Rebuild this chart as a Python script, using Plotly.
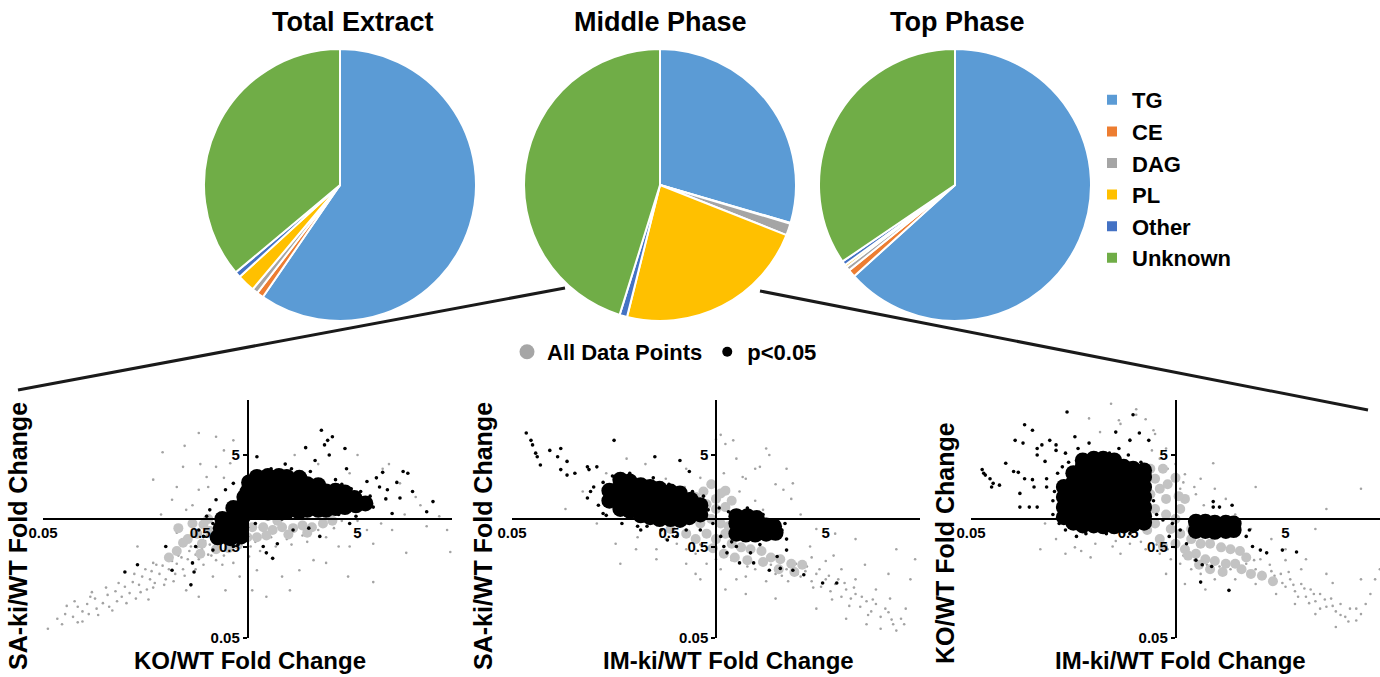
import plotly.graph_objects as go

# ---------------- pie data (percent of lipid signal) ----------------
lipid_classes = ["TG", "CE", "DAG", "PL", "Other", "Unknown"]
lipid_colors = ["#5B9BD5", "#ED7D31", "#A5A5A5", "#FFC000", "#4472C4", "#70AD47"]
total_extract = [59.6, 0.8, 0.7, 2.1, 0.7, 36.1]
middle_phase = [29.5, 0.1, 1.4, 22.9, 0.9, 45.2]
top_phase = [63.3, 0.9, 0.5, 0.3, 0.5, 34.5]
pie_titles = ["Total Extract", "Middle Phase", "Top Phase"]

# ---------------- scatter data: (log10 x fold change, log10 y fold change) ----------------
# Panel 1: KO/WT (x) vs SA-ki/WT (y)
p1_all_dense = [(-0.35,-0.05),(-0.32,-0.16),(-0.29,-0.27),(-0.38,-0.22),(-0.25,0.00),(-0.24,-0.13),
    (-0.19,-0.24),(-0.13,-0.22),(-0.06,-0.17),(0.00,-0.20),(0.03,-0.09),(0.10,-0.09),(0.16,-0.12),
    (0.22,-0.09),(0.29,-0.10),(0.35,-0.07),(0.41,-0.09),(0.48,-0.05),(-0.45,-0.35),(-0.41,-0.26),
    (-0.06,-0.28),(0.06,-0.20),(0.54,-0.02),(-0.50,-0.42),(-0.30,-0.38),(-0.20,-0.33),(0.12,-0.18),
    (0.26,-0.17),(-0.44,-0.10),(-0.28,-0.06),(0.19,-0.02),(0.38,-0.15),(-0.12,-0.32)]
p1_all = [(-1.21,-1.09),(-1.16,-1.04),(-1.11,-1.07),(-1.08,-0.96),(-1.05,-1.01),(-1.02,-0.93),
    (-1.01,-1.04),(-0.97,-0.87),(-0.96,-0.98),(-0.92,-0.92),(-0.89,-0.83),(-0.88,-0.96),(-0.84,-0.79),
    (-0.83,-0.90),(-0.80,-0.85),(-0.78,-0.74),(-0.75,-0.81),(-0.73,-0.69),(-0.71,-0.87),(-0.69,-0.72),
    (-0.67,-0.63),(-0.64,-0.77),(-0.62,-0.66),(-0.61,-0.57),(-0.59,-0.70),(-0.56,-0.60),(-0.54,-0.51),
    (-0.52,-0.66),(-0.50,-0.55),(-0.48,-0.46),(-0.46,-0.60),(-0.45,-0.49),(-0.42,-0.42),(-0.41,-0.55),
    (-0.38,-0.44),(-0.37,-0.35),(-0.35,-0.49),(-0.33,-0.39),(-0.32,-0.31),(-0.31,-0.44),(-0.29,-0.33),
    (-0.27,-0.24),(-0.25,-0.39),(-0.24,-0.28),(-1.27,-1.20),(-1.18,-1.15),(-1.08,-1.13),
    (-0.54,0.73),(-0.31,0.94),(-0.20,0.90),(-0.41,0.57),(-0.26,0.46),(-0.09,0.86),(-0.60,0.43),
    (-0.31,0.32),(-0.48,0.21),(-0.39,0.10),(-0.20,0.57),(-0.11,0.61),(-0.05,0.24),
    (0.65,0.50),(0.86,0.55),(0.97,0.39),(1.07,0.24),(1.22,0.03),(1.27,-0.12),(1.29,-0.36),
    (1.01,-0.37),(0.80,-0.27),(0.65,-0.30),(0.50,-0.48),(0.80,-0.69),(0.64,-0.63),(0.33,-0.56),
    (0.27,-0.78),(0.42,-0.45),(0.22,-0.63),(0.12,-0.85),(0.03,-0.78),(1.14,-0.08),(0.92,-0.12),
    (0.76,-0.12),(-0.09,-0.48),(-0.05,-0.63),(-0.14,-0.78),(-0.22,-0.63),(0.01,-0.41),(0.06,-0.56),
    (-0.31,-0.85),(-0.39,-0.78),(0.05,-0.25),(0.15,-0.20),(0.25,-0.22),(0.35,-0.18),(0.45,-0.12),
    (0.55,-0.10),(0.60,-0.02),(0.70,-0.02),(-0.15,-0.40),(-0.20,-0.45),(0.10,-0.10),(-0.45,-0.15),
    (-0.50,-0.40),(-0.60,-0.48),(-0.55,0.05),(-0.70,-0.30),(-0.35,0.15),(-0.30,0.60),(0.45,0.60),
    (0.30,0.70),(-1.10,-0.90),(-1.00,-0.85),(-0.95,-1.05),(-0.90,-0.75),(-0.86,-1.00),(-0.82,-0.70),
    (-0.77,-0.92),(-0.72,-0.60),(-0.68,-0.80),(-0.65,-0.55),(-0.60,-0.75),(-0.58,-0.50),(-0.53,-0.72),
    (-0.50,-0.45),(-0.47,-0.68),(-0.44,-0.40),(-0.40,-0.62),(-0.36,-0.30),(-0.33,-0.55),(-0.30,-0.25),
    (-0.28,-0.50),(-0.26,-0.18),(-0.23,-0.40),(-0.18,-0.30),(-0.16,-0.50),(-0.12,-0.35),(-1.15,-0.95),
    (-1.05,-1.12),(-0.99,-0.80),(-0.63,-0.88),(0.02,-0.30),(0.08,-0.35),(0.18,-0.30),(0.28,-0.28),
    (0.38,-0.25),(0.50,-0.20),(0.58,-0.30),(0.70,-0.20),(0.85,-0.05),(1.00,0.05),(1.10,0.15),
    (0.90,0.60),(0.70,0.70),(-0.15,0.75),(-0.40,0.80),(-0.45,0.35),(-0.25,0.35),(-0.15,0.45)]
p1_sig_dense = [(-0.19,-0.20),(-0.17,-0.10),(-0.16,0.00),(-0.11,-0.21),(-0.10,-0.11),(-0.10,0.01),
    (-0.09,0.12),(-0.04,-0.19),(-0.04,-0.09),(-0.03,0.02),(-0.04,0.13),(-0.02,0.24),
    (0.00,0.08),(0.01,0.18),(0.00,0.30),(0.01,0.40),(0.06,0.08),(0.07,0.18),(0.06,0.29),(0.07,0.39),
    (0.06,0.46),(0.13,0.07),(0.12,0.18),(0.13,0.28),(0.14,0.38),(0.13,0.47),(0.19,0.08),(0.20,0.17),
    (0.19,0.28),(0.19,0.39),(0.20,0.47),(0.25,0.08),(0.26,0.18),(0.25,0.29),(0.26,0.38),(0.25,0.46),
    (0.32,0.09),(0.31,0.18),(0.32,0.28),(0.32,0.38),(0.33,0.45),(0.38,0.10),(0.39,0.19),(0.38,0.29),
    (0.38,0.38),(0.45,0.10),(0.44,0.20),(0.45,0.30),(0.45,0.37),(0.50,0.10),(0.51,0.20),(0.50,0.30),
    (0.56,0.12),(0.57,0.22),(0.56,0.31),(0.62,0.13),(0.63,0.22),(0.62,0.29),(0.69,0.15),(0.68,0.23),
    (0.75,0.17)]
p1_sig = [(0.47,0.97),(0.54,0.90),(0.51,0.86),(0.49,0.81),(0.37,0.78),(0.62,0.77),(0.52,0.70),
    (0.06,0.68),(0.43,0.64),(0.24,0.60),(0.99,0.52),(1.02,0.50),(0.86,0.51),(0.76,0.41),(0.84,0.35),
    (0.89,0.32),(0.97,0.23),(1.18,0.19),(1.14,0.08),(0.92,0.06),(0.80,0.13),(0.03,0.50),(-0.09,0.39),
    (-0.14,0.32),(-0.20,0.21),(-0.26,0.03),(-0.31,-0.12),(-0.33,-0.30),(-0.35,-0.48),(-0.34,-0.58),
    (-0.36,-0.72),(-0.48,-0.56),(-0.52,-0.30),(-0.70,-0.50),(-0.78,-0.58),(-0.22,-0.34),(-0.09,-0.30),
    (0.10,-0.30),(0.12,-0.37),(0.16,-0.43),(0.19,-0.27),(0.29,-0.12),(0.39,-0.10),(0.46,-0.19),
    (0.65,-0.05),(0.69,0.03),(0.73,0.21),(0.67,0.24),(0.56,0.43),(0.33,0.46),(-0.20,-0.08),
    (-0.28,-0.19),(0.60,0.38),(0.66,0.33),(0.72,0.30),(0.78,0.25),(0.70,0.10),(0.58,0.05),(0.40,0.52),
    (0.28,0.55),(0.15,0.55),(0.35,0.02),(0.22,0.00),(0.05,-0.05),(-0.06,-0.28),(-0.13,-0.25),
    (-0.22,-0.05),(-0.24,0.10),(0.63,0.55),(0.82,0.45),(0.88,0.22),(0.95,0.40),(1.05,0.30)]

# Panel 2: IM-ki/WT (x) vs SA-ki/WT (y)
p2_all_dense = [(-0.25,0.27),(-0.19,0.22),(-0.13,0.24),(-0.06,0.16),(0.00,0.11),(0.00,0.22),
    (0.06,0.13),(-0.03,0.00),(0.03,-0.05),(-0.10,-0.05),(-0.06,-0.16),(0.00,-0.22),(0.06,-0.16),
    (0.10,-0.27),(-0.13,-0.22),(-0.19,-0.16),(-0.29,-0.11),(-0.25,0.05),(0.16,-0.31),(0.22,-0.33),
    (0.29,-0.35),(0.13,0.05),(0.06,0.31),(-0.03,0.38),(0.35,-0.42),(0.41,-0.44),(0.48,-0.49),
    (-0.20,0.05),(-0.15,0.10),(-0.08,0.30),(0.03,0.28),(0.10,0.20),(0.08,-0.08),(-0.02,-0.32),
    (0.05,-0.38),(0.12,-0.42),(0.20,-0.45),(0.30,-0.47),(0.40,-0.55),(0.50,-0.58),(0.55,-0.50)]
p2_all = [(0.45,-0.55),(0.51,-0.49),(0.54,-0.63),(0.57,-0.57),(0.61,-0.68),(0.64,-0.60),(0.67,-0.74),
    (0.70,-0.66),(0.73,-0.79),(0.76,-0.71),(0.80,-0.85),(0.83,-0.77),(0.86,-0.87),(0.89,-0.82),
    (0.92,-0.96),(0.96,-0.90),(0.99,-1.01),(1.02,-0.93),(1.05,-1.07),(1.08,-0.98),(1.13,-1.15),
    (1.18,-1.09),(1.15,-1.22),(1.05,-1.20),(0.96,-1.15),(1.21,-0.98),(1.11,-0.87),(1.02,-0.77),
    (0.89,-0.66),(0.80,-0.55),(0.70,-0.46),(0.61,-0.42),(0.38,-0.60),(0.32,-0.68),(0.25,-0.55),
    (0.19,-0.63),(0.13,-0.66),(0.06,-0.77),(0.03,-0.55),(0.00,-0.44),(-0.06,-0.49),(-0.13,-0.38),
    (-0.19,-0.33),(-0.25,-0.27),(-0.32,-0.22),(-0.38,-0.33),(-0.10,-0.66),(0.19,-0.82),(0.38,-0.87),
    (0.64,-0.98),(0.83,-1.09),(1.24,-0.66),(1.27,-0.44),(1.15,-0.33),(0.89,-0.22),(0.76,-0.16),
    (0.64,-0.11),(0.54,0.05),(0.48,0.22),(0.38,0.38),(0.25,0.55),(0.13,0.66),(0.06,0.82),(0.00,0.87),
    (-0.06,0.66),(0.19,0.44),(0.32,0.77),(0.45,0.55),(-0.19,0.55),(-0.32,0.44),(-0.45,0.60),
    (-0.57,0.66),(-0.96,0.11),(-0.76,-0.05),(-0.64,-0.27),(-0.51,-0.33),(-0.38,-0.44),(-0.61,-0.49),
    (-0.19,-0.49),(-0.13,-0.60),(0.35,-0.22),(0.29,-0.16),(0.22,-0.11),(0.34,0.70),(0.28,0.57),
    (0.11,0.86),(0.03,0.92),(0.17,0.46),(0.43,0.32),(0.49,0.39),(0.52,-0.60),(0.58,-0.52),
    (0.62,-0.75),(0.66,-0.55),(0.72,-0.62),(0.74,-0.88),(0.78,-0.66),(0.82,-0.70),(0.85,-0.95),
    (0.88,-0.75),(0.93,-0.85),(0.97,-1.05),(1.00,-0.88),(1.10,-1.02),(1.12,-1.10),(1.20,-1.15),
    (0.42,-0.62),(0.46,-0.68),(0.35,-0.50),(0.28,-0.48),(0.20,-0.52),(0.10,-0.45),(0.04,-0.35),
    (-0.04,-0.30),(-0.10,-0.28),(-0.40,0.10),(-0.20,0.35),(-0.10,0.45),(0.05,0.50),(0.15,0.30),
    (0.25,0.20),(0.30,0.10),(-0.50,-0.20),(-0.70,0.50),(-0.85,0.30),(0.60,-0.30),(0.75,-0.40),
    (0.95,-0.50),(1.10,-0.60)]
p2_sig_dense = [(-0.68,0.20),(-0.68,0.31),(-0.61,0.11),(-0.61,0.22),(-0.62,0.33),(-0.61,0.43),
    (-0.55,0.09),(-0.55,0.19),(-0.54,0.30),(-0.55,0.41),(-0.48,0.04),(-0.48,0.15),(-0.49,0.26),
    (-0.48,0.37),(-0.42,0.02),(-0.42,0.13),(-0.41,0.24),(-0.42,0.35),(-0.36,0.00),(-0.36,0.11),
    (-0.35,0.22),(-0.36,0.33),(-0.29,0.00),(-0.29,0.11),(-0.30,0.21),(-0.29,0.30),(-0.23,-0.01),
    (-0.23,0.10),(-0.22,0.19),(-0.23,0.28),(-0.17,0.02),(-0.17,0.13),(-0.16,0.21),(-0.10,0.05),
    (-0.10,0.15),(0.13,-0.16),(0.13,-0.05),(0.13,0.03),(0.19,-0.17),(0.19,-0.06),(0.20,0.03),
    (0.25,-0.17),(0.25,-0.06),(0.26,0.01),(0.32,-0.16),(0.32,-0.07),(0.38,-0.15),(0.37,-0.08)]
p2_sig = [(-1.21,0.94),(-1.18,0.86),(-1.17,0.81),(-1.15,0.72),(-1.14,0.68),(-1.12,0.59),(-1.06,0.75),
    (-0.99,0.77),(-1.01,0.68),(-0.95,0.63),(-0.99,0.54),(-0.95,0.48),(-0.90,0.50),(-0.82,0.57),
    (-0.81,0.54),(-0.76,0.57),(-0.82,0.23),(-0.78,0.35),(-0.72,0.06),(-0.70,0.04),(-0.65,0.86),
    (-0.39,0.68),(-0.23,0.64),(-0.17,0.52),(-0.48,-0.12),(-0.44,-0.08),(-0.31,-0.23),(-0.25,-0.19),
    (-0.19,-0.12),(-0.02,-0.05),(0.05,-0.30),(0.07,-0.37),(0.15,-0.48),(0.24,-0.48),(0.34,-0.56),
    (0.41,-0.54),(0.49,-0.56),(0.56,-0.61),(0.68,-0.70),(0.77,-0.70),(-0.10,-0.12),(0.03,-0.19),
    (0.13,-0.30),(0.22,-0.37),(0.45,-0.34),(0.39,-0.41),(-0.80,0.30),(-0.75,0.15),(-0.72,0.40),
    (-0.66,0.47),(-0.55,0.50),(-0.40,0.45),(-0.30,0.38),(-0.15,0.30),(-0.60,-0.05),(-0.50,-0.08),
    (-0.35,-0.12),(-0.05,0.10),(0.02,0.12),(-0.08,0.25),(0.08,0.08),(0.10,-0.25),(0.30,0.05),
    (0.42,-0.12),(0.44,-0.05),(0.28,-0.28),(0.20,0.12),(0.45,-0.22)]

# Panel 3: IM-ki/WT (x) vs KO/WT (y)
p3_all_dense = [(-0.13,0.44),(-0.10,0.33),(-0.06,0.22),(-0.13,0.11),(-0.06,0.05),(0.00,0.00),
    (0.03,0.11),(-0.03,-0.11),(0.03,-0.16),(0.10,-0.11),(0.10,-0.22),(0.16,-0.27),(0.22,-0.27),
    (0.29,-0.31),(0.35,-0.33),(0.41,-0.35),(-0.13,-0.05),(-0.10,-0.22),(0.00,-0.27),(0.06,-0.33),
    (0.13,-0.38),(0.19,-0.44),(0.25,-0.46),(0.32,-0.49),(0.38,-0.49),(-0.16,0.55),(-0.16,0.27),
    (0.06,0.22),(0.08,-0.40),(0.15,-0.50),(0.22,-0.55),(0.30,-0.58),(0.42,-0.55),(0.48,-0.60),
    (0.55,-0.62),(0.62,-0.68),(-0.05,0.38),(0.00,0.45),(-0.08,0.55),(0.02,0.25),(-0.18,-0.12),
    (-0.08,-0.30),(0.45,-0.42)]
p3_all = [(0.45,-0.49),(0.51,-0.55),(0.54,-0.44),(0.57,-0.63),(0.61,-0.57),(0.64,-0.68),(0.67,-0.60),
    (0.70,-0.74),(0.73,-0.66),(0.76,-0.79),(0.80,-0.71),(0.83,-0.85),(0.86,-0.77),(0.89,-0.90),
    (0.92,-0.82),(0.96,-0.96),(0.99,-0.87),(1.02,-1.01),(1.05,-0.93),(1.08,-1.07),(1.11,-0.98),
    (1.15,-1.11),(1.18,-1.04),(1.21,-0.93),(1.24,-0.82),(1.02,-1.18),(0.89,-1.04),(0.76,-0.93),
    (0.64,-0.82),(0.51,-0.71),(0.38,-0.66),(0.32,-0.60),(0.25,-0.66),(0.16,-0.60),(0.10,-0.55),
    (0.03,-0.49),(-0.03,-0.44),(-0.10,-0.38),(0.19,-0.77),(0.06,-0.71),(-0.06,-0.60),(-0.19,-0.33),
    (-0.29,-0.27),(-0.38,-0.24),(-0.51,-0.27),(-0.64,-0.31),(-0.76,-0.22),(-0.83,-0.05),(-0.86,-0.33),
    (-0.70,-0.38),(-0.54,-0.42),(-0.35,-0.38),(1.27,-0.66),(1.18,-0.66),(0.96,-0.60),(0.83,-0.44),
    (0.70,-0.33),(0.61,-0.22),(0.48,-0.11),(0.38,0.05),(0.32,0.22),(0.25,0.33),(0.16,0.44),
    (0.06,0.49),(0.00,0.60),(-0.06,0.77),(-0.13,0.93),(-0.19,1.09),(-0.25,1.20),(-0.35,1.04),
    (-0.29,0.87),(-0.38,0.66),(-0.10,0.66),(0.03,0.33),(0.13,0.27),(0.29,-0.11),(0.89,-0.11),
    (0.96,0.11),(1.18,0.33),(-0.41,1.26),(-0.25,1.14),(-0.14,0.97),(-0.36,1.08),(0.24,0.61),
    (0.51,0.35),(0.50,-0.45),(0.55,-0.58),(0.60,-0.50),(0.63,-0.62),(0.68,-0.70),(0.72,-0.58),
    (0.75,-0.72),(0.78,-0.85),(0.82,-0.76),(0.85,-0.92),(0.88,-0.82),(0.92,-0.98),(0.95,-0.88),
    (1.00,-0.95),(1.05,-1.05),(1.10,-1.12),(1.15,-0.98),(0.40,-0.50),(0.35,-0.55),(0.28,-0.52),
    (0.20,-0.50),(0.12,-0.45),(0.05,-0.40),(-0.05,-0.33),(-0.12,-0.28),(-0.22,-0.25),(-0.40,-0.30),
    (-0.60,-0.35),(-0.15,0.75),(-0.05,0.55),(0.05,0.40),(0.12,0.35),(0.18,0.15),(0.30,0.00),
    (-0.48,0.95),(-0.55,1.10),(0.70,-0.45),(0.80,-0.55),(1.00,-0.70),(1.30,-0.55)]
p3_sig_dense = [(-0.71,0.02),(-0.71,0.13),(-0.71,0.24),(-0.71,0.35),
    (-0.65,-0.04),(-0.65,0.07),(-0.65,0.18),(-0.65,0.29),(-0.65,0.40),(-0.65,0.50),
    (-0.59,-0.07),(-0.59,0.03),(-0.59,0.13),(-0.59,0.24),(-0.59,0.35),(-0.59,0.46),(-0.59,0.57),(-0.59,0.64),
    (-0.52,-0.07),(-0.52,0.02),(-0.52,0.13),(-0.52,0.24),(-0.52,0.35),(-0.52,0.46),(-0.52,0.57),(-0.52,0.66),
    (-0.46,-0.08),(-0.46,0.02),(-0.46,0.13),(-0.46,0.24),(-0.46,0.35),(-0.46,0.46),(-0.46,0.57),(-0.46,0.66),
    (-0.39,-0.08),(-0.39,0.02),(-0.39,0.13),(-0.39,0.24),(-0.39,0.35),(-0.39,0.46),(-0.39,0.57),(-0.39,0.64),
    (-0.33,-0.07),(-0.33,0.02),(-0.33,0.13),(-0.33,0.24),(-0.33,0.35),(-0.33,0.46),(-0.33,0.57),
    (-0.27,-0.06),(-0.27,0.02),(-0.27,0.13),(-0.27,0.24),(-0.27,0.35),(-0.27,0.46),(-0.27,0.55),
    (-0.20,-0.04),(-0.20,0.03),(-0.20,0.13),(-0.20,0.24),(-0.20,0.35),(-0.20,0.46),(-0.20,0.53),
    (0.13,-0.13),(0.13,-0.03),(0.19,-0.13),(0.19,-0.03),(0.25,-0.14),(0.25,-0.04),(0.32,-0.13),
    (0.32,-0.04),(0.37,-0.12),(0.37,-0.05)]
p3_sig = [(-1.23,0.54),(-1.21,0.48),(-1.18,0.44),(-1.16,0.39),(-1.17,0.35),(-1.12,0.37),(-1.22,0.50),
    (-1.08,0.61),(-1.03,0.52),(-1.00,0.51),(-0.99,0.28),(-0.99,0.13),(-0.93,0.13),(-0.88,0.13),
    (-0.96,0.44),(-0.91,0.43),(-0.90,0.35),(-0.82,0.44),(-0.82,0.35),(-0.88,0.77),(-0.88,0.70),
    (-0.85,0.81),(-0.80,0.86),(-0.76,0.81),(-0.76,0.75),(-0.83,0.63),(-0.72,0.57),(-0.70,0.72),
    (-0.69,1.17),(-0.96,1.03),(-0.91,0.97),(-1.02,0.86),(-0.97,0.83),(-0.64,0.90),(-0.62,0.77),
    (-0.55,0.83),(-0.38,0.95),(-0.27,1.14),(-0.29,0.86),(-0.23,0.94),(-0.17,0.86),(-0.36,0.77),
    (-0.63,-0.19),(-0.57,-0.16),(-0.53,-0.12),(-0.44,-0.16),(-0.74,-0.05),(-0.70,-0.12),(-0.29,-0.16),
    (-0.08,-0.01),(-0.02,-0.05),(0.03,-0.12),(-0.04,-0.19),(0.07,-0.27),(0.13,-0.45),(0.17,-0.50),
    (0.23,-0.52),(0.16,-0.69),(0.34,-0.78),(0.24,0.19),(0.28,0.13),(0.36,0.15),(0.24,0.13),
    (0.45,-0.19),(0.49,-0.30),(0.54,-0.34),(0.58,-0.37),(0.68,-0.34),(0.77,-0.36),(0.47,-0.12),
    (-0.78,0.20),(-0.78,0.05),(-0.77,0.30),(-0.75,0.50),(-0.68,0.62),(-0.58,0.70),(-0.50,0.68),
    (-0.42,0.72),(-0.30,0.70),(-0.22,0.62),(-0.60,-0.10),(-0.45,-0.10),(-0.35,-0.08),(-0.20,-0.05),
    (-0.12,0.05),(-0.14,0.20)]

axis_ticks = [0.05, 0.5, 5]
axis_tick_text = ["0.05", "0.5", "5"]
panel_x_titles = ["KO/WT Fold Change", "IM-ki/WT Fold Change", "IM-ki/WT Fold Change"]
panel_y_titles = ["SA-ki/WT Fold Change", "SA-ki/WT Fold Change", "KO/WT Fold Change"]
legend_names = ["All Data Points", "p<0.05"]

FONT = "Liberation Sans, Arial, Helvetica, sans-serif"
W, H = 1380, 677

fig = go.Figure()

# ---------------- pies ----------------
pie_x_px = [(204, 476), (524, 796), (819, 1091)]
pie_y_px = (49, 321)
for i, vals in enumerate([total_extract, middle_phase, top_phase]):
    x0, x1 = pie_x_px[i]
    fig.add_trace(go.Pie(
        labels=lipid_classes, values=vals, sort=False, direction="clockwise", rotation=0,
        marker=dict(colors=lipid_colors, line=dict(color="white", width=2)),
        textinfo="none", hoverinfo="label+percent",
        domain=dict(x=[x0 / W, x1 / W], y=[1 - pie_y_px[1] / H, 1 - pie_y_px[0] / H]),
        showlegend=(i == 0), legend="legend",
    ))

# ---------------- scatter panels ----------------
panels = [
    (p1_all, p1_all_dense, p1_sig_dense, p1_sig),
    (p2_all, p2_all_dense, p2_sig_dense, p2_sig),
    (p3_all, p3_all_dense, p3_sig_dense, p3_sig),
]
x_dom_px = [(43, 452), (512, 920), (971, 1380)]
y_dom_px = (400, 638)
y_dom = [1 - y_dom_px[1] / H, 1 - y_dom_px[0] / H]
y_mid = (y_dom[0] + y_dom[1]) / 2

styles = [
    dict(size=2.6, color="#a3a3a3"),   # all points, sparse
    dict(size=10, color="#c3c3c3"),    # all points, dense
    dict(size=16, color="#000000"),    # p<0.05, dense
    dict(size=3.6, color="#000000"),   # p<0.05, sparse
]

for k, groups in enumerate(panels):
    xa = "x" if k == 0 else f"x{k+1}"
    ya = "y" if k == 0 else f"y{k+1}"
    for g, pts in enumerate(groups):
        fig.add_trace(go.Scatter(
            x=[10 ** u for u, v in pts], y=[10 ** v for u, v in pts],
            mode="markers", marker=dict(size=styles[g]["size"], color=styles[g]["color"], line=dict(width=0)),
            xaxis=xa, yaxis=ya, showlegend=False, hoverinfo="x+y",
        ))
    x0, x1 = x_dom_px[k]
    xd = [x0 / W, x1 / W]
    xmid = (xd[0] + xd[1]) / 2
    tickfont = dict(family=FONT, size=15, color="black", weight="bold")
    fig.layout[("xaxis" if k == 0 else f"xaxis{k+1}")] = dict(
        type="log", range=[-1.30103, 1.30103], domain=xd, anchor="free", position=y_mid,
        showgrid=False, zeroline=False, showline=True, linecolor="black", linewidth=1.5,
        ticks="", tickvals=axis_ticks, ticktext=axis_tick_text, tickfont=tickfont, automargin=False,
    )
    fig.layout[("yaxis" if k == 0 else f"yaxis{k+1}")] = dict(
        type="log", range=[-1.30103, 1.30103], domain=y_dom, anchor="free", position=xmid,
        showgrid=False, zeroline=False, showline=True, linecolor="black", linewidth=1.5,
        ticks="outside", ticklen=4, tickwidth=1.5, tickcolor="black",
        tickvals=axis_ticks, ticktext=axis_tick_text, tickfont=tickfont, automargin=False,
    )

# legend entries for scatter
fig.add_trace(go.Scatter(x=[None], y=[None], mode="markers", name=legend_names[0],
                         marker=dict(size=15, color="#a6a6a6"), legend="legend2", xaxis="x", yaxis="y"))
fig.add_trace(go.Scatter(x=[None], y=[None], mode="markers", name=legend_names[1],
                         marker=dict(size=10, color="#000000"), legend="legend2", xaxis="x", yaxis="y"))

# ---------------- annotations ----------------
ann = []
title_cx = [353, 660, 957]
for t, cx in zip(pie_titles, title_cx):
    ann.append(dict(text=t, x=cx / W, y=1 - 22 / H, xref="paper", yref="paper", showarrow=False,
                    xanchor="center", yanchor="middle",
                    font=dict(family=FONT, size=27, color="black", weight="bold")))
xt_cx = [250, 728, 1180]
for t, cx in zip(panel_x_titles, xt_cx):
    ann.append(dict(text=t, x=cx / W, y=0.002, xref="paper", yref="paper", showarrow=False,
                    xanchor="center", yanchor="bottom",
                    font=dict(family=FONT, size=24, color="black", weight="bold")))
yt_pos = [(18, 536), (483, 536), (945, 543)]
for t, (cx, cy) in zip(panel_y_titles, yt_pos):
    ann.append(dict(text=t, x=cx / W, y=1 - cy / H, xref="paper", yref="paper", showarrow=False,
                    xanchor="center", yanchor="middle", textangle=-90,
                    font=dict(family=FONT, size=25, color="black", weight="bold")))

shapes = [
    dict(type="line", xref="paper", yref="paper", x0=565 / W, y0=1 - 288 / H, x1=18 / W, y1=1 - 390 / H,
         line=dict(color="#1a1a1a", width=3)),
    dict(type="line", xref="paper", yref="paper", x0=760 / W, y0=1 - 291 / H, x1=1368 / W, y1=1 - 410 / H,
         line=dict(color="#1a1a1a", width=3)),
]

fig.update_layout(
    width=W, height=H, margin=dict(l=0, r=0, t=0, b=0, autoexpand=False),
    paper_bgcolor="white", plot_bgcolor="white",
    font=dict(family=FONT, color="black"),
    annotations=ann, shapes=shapes,
    legend=dict(x=1092 / W, y=1 - 79 / H, xanchor="left", yanchor="top",
                font=dict(family=FONT, size=22, color="black", weight="bold"),
                bgcolor="rgba(0,0,0,0)", traceorder="normal"),
    legend2=dict(x=507 / W, y=1 - 352 / H, xanchor="left", yanchor="middle", orientation="h",
                 font=dict(family=FONT, size=22, color="black", weight="bold"),
                 bgcolor="rgba(0,0,0,0)", itemsizing="trace"),
    showlegend=True,
)

fig.write_html("out.html", config={"displayModeBar": False},
               post_script="document.body.style.margin='0';")
